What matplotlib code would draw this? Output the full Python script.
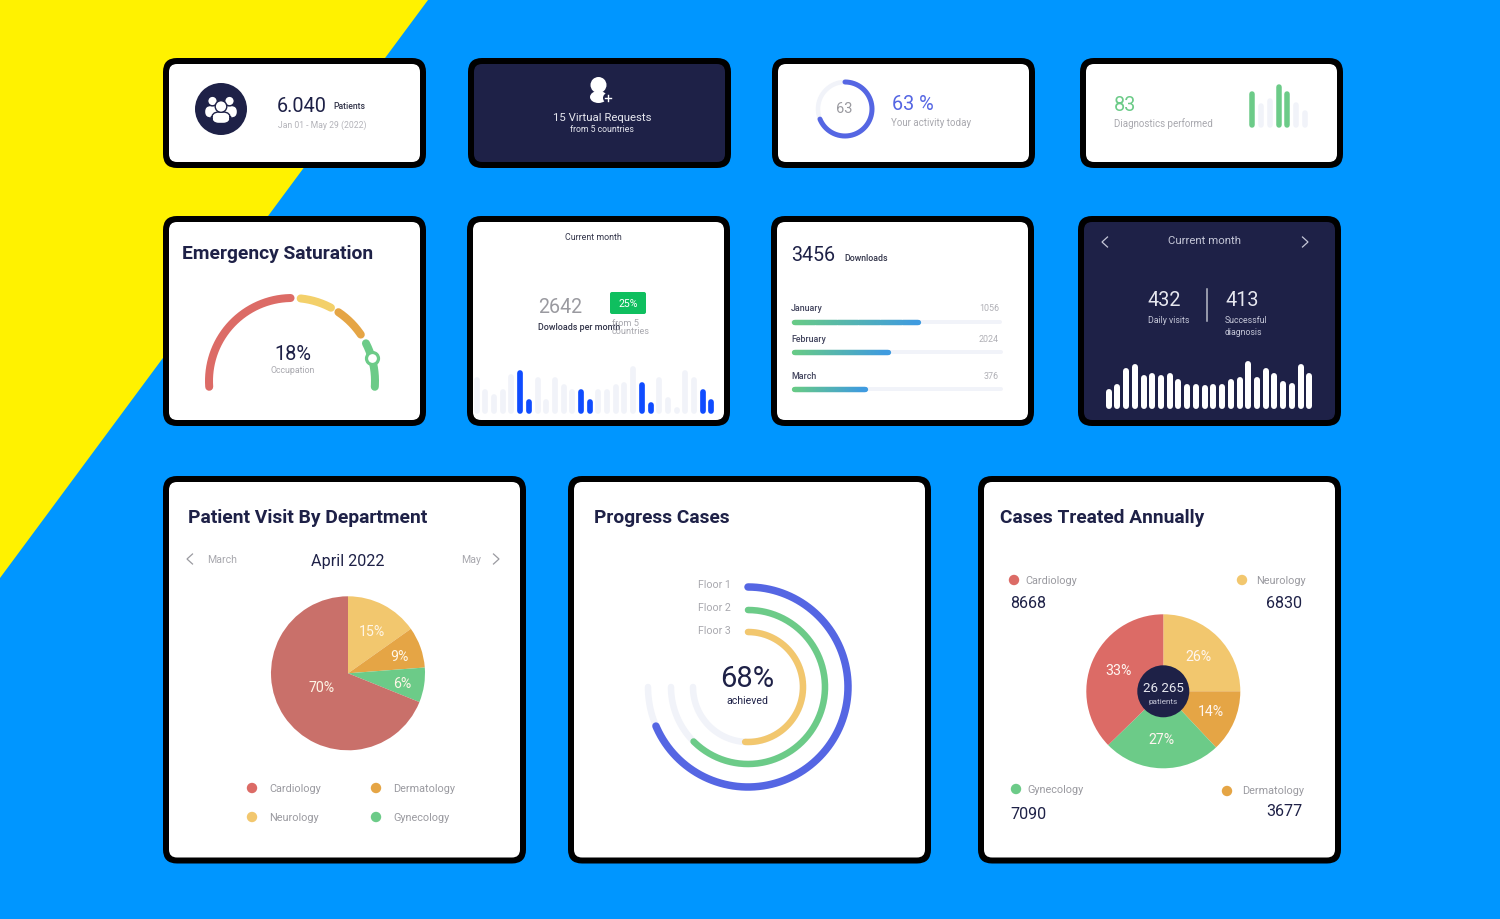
#!/usr/bin/env python3

import numpy as np
import matplotlib

matplotlib.use("Agg")
import matplotlib.pyplot as plt
from matplotlib.colors import LinearSegmentedColormap
from matplotlib.patches import Circle, FancyBboxPatch, Polygon, Ellipse

W, H = 1500, 920
PX = 0.72  # points per pixel at dpi 100
SHIFT = 1  # rendered one pixel high otherwise

NAVY = "#1E2147"
GREY = "#A8A8AE"
TRACK = "#F1F3F9"
RED = "#DC6B66"
YELLOW = "#F2C76E"
ORANGE = "#E5A545"
GREEN = "#6CCB88"
BLUE = "#5566E3"

# pie: patient visit by department
visit_labels = ["Neurology", "Dermatology", "Gynecology", "Cardiology"]
visit_values = [15, 9, 6, 70]
visit_shares = [15.2, 8.6, 7.3, 68.9]  # slice sizes as drawn in the picture
visit_colors = [YELLOW, ORANGE, GREEN, "#C9706A"]

# pie: cases treated annually
cases_labels = ["Neurology", "Dermatology", "Gynecology", "Cardiology"]
cases_values = [26, 14, 27, 33]
cases_shares = [25, 13, 24.7, 37.3]  # slice sizes as drawn in the picture
cases_totals = [6830, 3677, 7090, 8668]
cases_colors = [YELLOW, ORANGE, GREEN, RED]

# rings, sweep in degrees clockwise from the top
floor_labels = ["Floor 1", "Floor 2", "Floor 3"]
floor_sweep = [247, 225, 183]
floor_radius = [100, 77, 55]
floor_colors = [BLUE, GREEN, YELLOW]
floor_track_sweep = 270
activity_sweep = 248

# gauge segments, start and end angle in degrees
gauge_start = [184, 84, 56, 27]
gauge_end = [91, 62, 34, -4]
gauge_colors = [RED, "#F3D06A", ORANGE, GREEN]
gauge_marker = 16

# small bars, heights in pixels
diag_heights = [37, 25, 30, 44, 37, 26, 18]
diag_green = [0, 3, 4]
download_heights = [36.7, 24.7, 19.7, 24.7, 40, 44, 15, 36.7, 15, 36.7, 29.7, 24.7, 24.7, 15,
                    24.7, 24.7, 29.7, 31.7, 48, 31.7, 12.3, 36.7, 17.3, 7.3, 44, 36.7, 24.7, 15]
download_blue = [5, 6, 12, 13, 19, 20, 26, 27]
visit_heights = [20, 25, 40.7, 44.3, 33.3, 36, 33.3, 36, 29.7, 25, 25, 23.3,
                 25, 25, 29.7, 31.7, 48, 31.7, 41, 36, 27.7, 25.7, 44.3, 36]

# progress rows
month_names = ["January", "February", "March"]
month_values = ["1056", "2024", "376"]
month_fill = [0.615, 0.465, 0.358]


plt.rcParams["font.family"] = ["Roboto", "DejaVu Sans"]

fig = plt.figure(figsize=(W / 100, H / 100), dpi=100, facecolor="#0096FF")


def pixel_axes(x0, y0, x1, y1, **kwargs):
    ax = fig.add_axes([x0 / W, 1 - (y1 + SHIFT) / H, (x1 - x0) / W, (y1 - y0) / H], **kwargs)
    ax.patch.set_alpha(0)
    ax.set_axis_off()
    return ax


bg = pixel_axes(0, 0, W, H)
bg.set_xlim(0, W)
bg.set_ylim(H, 0)
bg.set_zorder(0)

top = pixel_axes(0, 0, W, H)
top.set_xlim(0, W)
top.set_ylim(H, 0)
top.set_zorder(10)


def label(x, y, s, size=6.4, color=GREY, ha="left", weight="normal", **kwargs):
    top.text(x, y + size * 0.07 - 0.8, s, fontsize=size, color=color, ha=ha, va="center",
             fontweight=weight, **kwargs)


def card(x0, y0, x1, y1, fill="white"):
    bg.add_patch(FancyBboxPatch((x0 + 14, y0 + 14), x1 - x0 - 28, y1 - y0 - 28,
                                boxstyle="round,pad=14,rounding_size=14", fc="black", ec="none"))
    bg.add_patch(FancyBboxPatch((x0 + 14, y0 + 14), x1 - x0 - 28, y1 - y0 - 28,
                                boxstyle="round,pad=8,rounding_size=8", fc=fill, ec="none"))


def round_bars(x0, base, step, heights, width, colors):
    ax = pixel_axes(x0 - 8, base - 60, x0 + step * len(heights) + 8, base + 4)
    ax.set_xlim(x0 - 8, x0 + step * len(heights) + 8)
    ax.set_ylim(-4, 60)
    xs = x0 + np.arange(len(heights)) * step
    tops = np.array(heights) - width / 2
    ax.vlines(xs, width / 2, tops, colors=colors, linewidth=width * PX, capstyle="round")


def polar_axes(cx, cy, radius):
    ax = pixel_axes(cx - radius, cy - radius, cx + radius, cy + radius, projection="polar")
    ax.set_rlim(0, radius)
    return ax


def arc(ax, start, end, radius, color, width):
    theta = np.radians(np.linspace(start, end, 200))
    ax.plot(theta, np.full_like(theta, radius), color=color, linewidth=width * PX,
            solid_capstyle="round")


def chevron(x, y, direction, color, size=5):
    top.plot([x - direction * size * 1.1, x, x - direction * size * 1.1], [y - size, y, y + size],
             color=color, linewidth=0.9, solid_joinstyle="miter")


def person(cx, head_y, head_r, body_w, body_top, body_bottom):
    bg.add_patch(FancyBboxPatch((cx - body_w / 2, body_top), body_w, body_bottom - body_top,
                                boxstyle=f"round,pad=0,rounding_size={body_w * 0.38}",
                                fc="white", ec=NAVY, linewidth=1.0, zorder=4))
    bg.add_patch(Circle((cx, head_y), head_r, fc="white", ec=NAVY, linewidth=1.0, zorder=4))


# background
bg.add_patch(Polygon([(0, 0), (428, 0), (0, 578)], fc="#FFF200", ec="none"))

# cards
card(163, 58, 426, 168)
card(468, 58, 731, 168, NAVY)
card(772, 58, 1035, 168)
card(1080, 58, 1343, 168)
card(163, 216, 426, 426)
card(467, 216, 730, 426)
card(771, 216, 1034, 426)
card(1078, 216, 1341, 426, NAVY)
card(163, 476, 526, 863.5)
card(568, 476, 931, 863.5)
card(978, 476, 1341, 863.5)

# patients card
bg.add_patch(Circle((221, 109), 26, fc=NAVY, ec="none", zorder=3))
person(212.5, 101, 4.8, 16, 105.5, 118)
person(229.5, 101, 4.8, 16, 105.5, 118)
person(221, 106.5, 5.8, 19, 112, 123.5)
label(277, 105, "6.040", 14.3, NAVY)
label(333, 106, "Patients", 6.2, "#33354A", weight="medium")
label(278, 125, "Jan 01 - May 29 (2022)", 6.2, "#B4B4BA")

# virtual requests card
bg.add_patch(Circle((598.5, 85), 8, fc="white", ec="none", zorder=3))
bg.add_patch(Ellipse((598.5, 97), 17, 12, fc="white", ec="none", zorder=3))
bg.add_patch(Circle((608, 98), 5, fc=NAVY, ec="none", zorder=4))
top.plot([605, 611], [98, 98], color="white", linewidth=1.0)
top.plot([608, 608], [95, 101], color="white", linewidth=1.0)
label(602, 117, "15 Virtual Requests", 8.2, "#E6E7EF", ha="center")
label(602, 129, "from 5 countries", 6.3, "#E6E7EF", ha="center")

# activity card
ax = polar_axes(845, 109, 34)
arc(ax, 0, 360, 27, TRACK, 4.5)
arc(ax, 90, 90 - activity_sweep, 27, BLUE, 5)
label(844, 108, "63", 10.5, "#9A9AA0", ha="center")
label(892, 103, "63 %", 14.3, BLUE)
label(891, 122, "Your activity today", 7, GREY)

# diagnostics card
diag_colors = [GREEN if i in diag_green else TRACK for i in range(len(diag_heights))]
round_bars(1252.5, 128, 8.7, diag_heights, 5.5, diag_colors)
label(1114, 104, "83", 14.3, GREEN)
label(1114, 123, "Diagnostics performed", 7, GREY)

# gauge card
label(182, 252.5, "Emergency Saturation", 13.85, NAVY, weight="bold")
ax = polar_axes(292, 381, 96)
for a0, a1, c in zip(gauge_start, gauge_end, gauge_colors):
    arc(ax, a0, a1, 83, c, 8)
ax.plot([np.radians(gauge_marker)], [83], "o", ms=12 * PX, mfc="white", mec=GREEN, mew=3.2 * PX)
label(293, 353, "18%", 14.3, NAVY, ha="center")
label(293, 370, "Occupation", 6.3, GREY, ha="center")

# downloads per month card
download_colors = ["#0F4CFF" if i in download_blue else TRACK for i in range(len(download_heights))]
round_bars(476.7, 414, 8.69, download_heights, 5.7, download_colors)
label(593.5, 237, "Current month", 6.4, "#33354A", ha="center")
label(538, 306, "2642", 14.1, "#9A9AA0")
bg.add_patch(FancyBboxPatch((612, 294), 32, 18, boxstyle="round,pad=2,rounding_size=2",
                            fc="#0FBF5F", ec="none", zorder=3))
label(628.5, 303, "25%", 7.6, "white", ha="center")
label(538, 327, "Dowloads per month", 6.4, "#33354A", weight="medium")
label(612, 323, "from 5", 6.6, GREY)
label(612, 331, "countries", 6.6, GREY)

# downloads progress card
gradient = LinearSegmentedColormap.from_list("progress", ["#68CB86", "#3F9BE0"])
label(791, 254, "3456", 14.1, NAVY)
label(844, 258, "Downloads", 6.3, "#33354A", weight="medium")
rows = [(791, 322, 308), (792, 352, 339), (792, 389, 376)]
for (x0, yc, yt), name, val, frac in zip(rows, month_names, month_values, month_fill):
    ax = pixel_axes(x0 - 2, yc - 6, x0 + 213, yc + 6)
    ax.set_xlim(-2, 213)
    ax.set_ylim(-6, 6)
    ax.hlines(0, 2, 209, colors=TRACK, linewidth=4 * PX, capstyle="round")
    edges = np.linspace(2.5, 211 * frac - 2.5, 120)
    ax.hlines(np.zeros(119), edges[:-1], edges[1:], colors=gradient(np.linspace(0, 1, 119)),
              linewidth=5.3 * PX, capstyle="round")
    label(791, yt, name, 6.4, "#44465F", weight="medium")
    label(999, yt, val, 6.4, "#B0B0B6", ha="right")

# current month dark card
round_bars(1108.7, 408.5, 8.72, visit_heights, 6, "white")
label(1205, 240, "Current month", 8.2, "#C5C7D8", ha="center")
chevron(1102, 242, -1, "#C5C7D8", 5)
chevron(1308, 242, 1, "#C5C7D8", 5)
label(1147.5, 299, "432", 14.3, "#E6E7EF")
label(1225.5, 299, "413", 14.3, "#E6E7EF")
top.plot([1207, 1207], [289, 321], color="#B8BBC8", linewidth=1.1)
label(1147.5, 320, "Daily visits", 6.3, "#C5C7D8")
label(1224.5, 320, "Successful", 6.3, "#C5C7D8")
label(1224.5, 331.5, "diagnosis", 6.3, "#C5C7D8")

# patient visit pie
label(188, 516.8, "Patient Visit By Department", 13.85, NAVY, weight="bold")
chevron(187, 559, -1, "#9A9AA0", 5)
chevron(499, 559, 1, "#9A9AA0", 5)
label(207, 559, "March", 7.6, GREY)
label(348, 560, "April 2022", 11.6, NAVY, ha="center")
label(461, 559, "May", 7.6, GREY)
ax = pixel_axes(348 - 77, 673.3 - 77, 348 + 77, 673.3 + 77)
ax.pie(visit_shares, colors=visit_colors, startangle=90, counterclock=False, radius=1)
ax.set_xlim(-1, 1)
ax.set_ylim(-1, 1)
visit_text = [(322, 687), (372, 631), (399, 656), (402, 683)]
for (tx, ty), v in zip(visit_text, [visit_values[3], visit_values[0], visit_values[1], visit_values[2]]):
    label(tx, ty, f"{v}%", 10.2, "#FFF6E6", ha="center")
visit_legend = [(252, 817), (376, 788), (376, 817), (252, 788)]
for (dx, dy), name, c in zip(visit_legend, visit_labels, visit_colors):
    top.add_patch(Circle((dx, dy), 5.2, fc=c if c != "#C9706A" else RED, ec="none"))
    label(dx + 17, dy, name, 7.85, "#9A9AA0")

# progress rings
label(594, 516.8, "Progress Cases", 13.75, NAVY, weight="bold")
ax = polar_axes(748, 687, 108)
for s, r, c in zip(floor_sweep, floor_radius, floor_colors):
    arc(ax, 90, 90 - floor_track_sweep, r, TRACK, 6.5)
for s, r, c in zip(floor_sweep, floor_radius, floor_colors):
    arc(ax, 90, 90 - s, r, c, 7.5 if r == 100 else 6.5)
for y, name in zip([584, 607, 630], floor_labels):
    label(698, y, name, 7.7, GREY)
label(747, 677.5, "68%", 21, NAVY, ha="center")
label(747.5, 700, "achieved", 7.6, NAVY, ha="center")

# cases treated pie
label(1000, 516.8, "Cases Treated Annually", 13.75, NAVY, weight="bold")
ax = pixel_axes(1163.3 - 77, 691.3 - 77, 1163.3 + 77, 691.3 + 77)
ax.pie(cases_shares, colors=cases_colors, startangle=90, counterclock=False, radius=1)
ax.add_patch(Circle((0, 0), 26 / 77, fc=NAVY, ec="none", zorder=5))
ax.set_xlim(-1, 1)
ax.set_ylim(-1, 1)
cases_text = [(1198, 656), (1211, 711), (1161, 739), (1118, 670.5)]
for (tx, ty), v in zip(cases_text, cases_values):
    label(tx, ty, f"{v}%", 10.2, "#FFF6F0", ha="center")
label(1163, 688, "26 265", 9.6, "#E6E7EF", ha="center")
label(1163, 701.5, "patients", 5.9, "#C5C7D8", ha="center")
dots = [(1242, 580), (1227, 791), (1016, 789), (1014, 580)]
name_x = [1256, 1242, 1027, 1025]
name_y = [580, 790, 789, 580]
total_pos = [(1266, 602.5), (1266, 810.5), (1010, 813.5), (1010, 602.5)]
for (dx, dy), nx, ny, (tx, ty), name, total, c in zip(dots, name_x, name_y, total_pos,
                                                       cases_labels, cases_totals, cases_colors):
    top.add_patch(Circle((dx, dy), 5.2, fc=c, ec="none"))
    label(nx, ny, name, 7.85, "#9A9AA0")
    label(tx, ty, str(total), 11.6, NAVY)

fig.savefig("out.png", dpi=100, facecolor=fig.get_facecolor())
